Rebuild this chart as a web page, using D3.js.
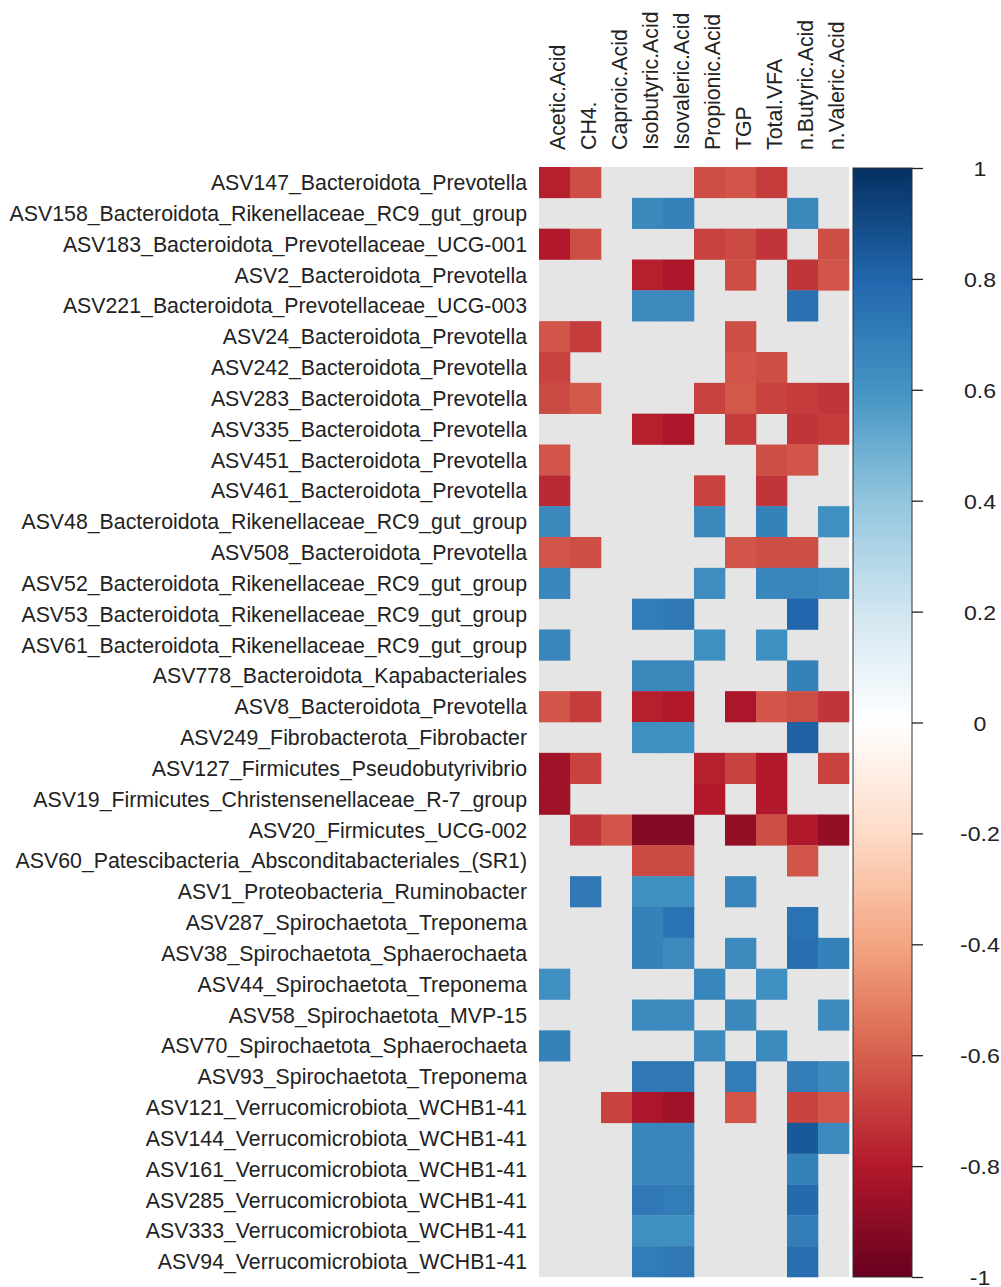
<!DOCTYPE html>
<html><head><meta charset="utf-8">
<script src="https://cdn.jsdelivr.net/npm/d3@7"></script>
<style>body{margin:0;background:#fff}svg{display:block}text{font-family:"Liberation Sans",Arial,sans-serif;fill:#222}</style>
</head><body><svg id="c" width="1001" height="1287"></svg>
<script>
const columns = ["Acetic.Acid","CH4.","Caproic.Acid","Isobutyric.Acid","Isovaleric.Acid","Propionic.Acid","TGP","Total.VFA","n.Butyric.Acid","n.Valeric.Acid"];
const rowsLabels = ["ASV147_Bacteroidota_Prevotella","ASV158_Bacteroidota_Rikenellaceae_RC9_gut_group","ASV183_Bacteroidota_Prevotellaceae_UCG-001","ASV2_Bacteroidota_Prevotella","ASV221_Bacteroidota_Prevotellaceae_UCG-003","ASV24_Bacteroidota_Prevotella","ASV242_Bacteroidota_Prevotella","ASV283_Bacteroidota_Prevotella","ASV335_Bacteroidota_Prevotella","ASV451_Bacteroidota_Prevotella","ASV461_Bacteroidota_Prevotella","ASV48_Bacteroidota_Rikenellaceae_RC9_gut_group","ASV508_Bacteroidota_Prevotella","ASV52_Bacteroidota_Rikenellaceae_RC9_gut_group","ASV53_Bacteroidota_Rikenellaceae_RC9_gut_group","ASV61_Bacteroidota_Rikenellaceae_RC9_gut_group","ASV778_Bacteroidota_Kapabacteriales","ASV8_Bacteroidota_Prevotella","ASV249_Fibrobacterota_Fibrobacter","ASV127_Firmicutes_Pseudobutyrivibrio","ASV19_Firmicutes_Christensenellaceae_R-7_group","ASV20_Firmicutes_UCG-002","ASV60_Patescibacteria_Absconditabacteriales_(SR1)","ASV1_Proteobacteria_Ruminobacter","ASV287_Spirochaetota_Treponema","ASV38_Spirochaetota_Sphaerochaeta","ASV44_Spirochaetota_Treponema","ASV58_Spirochaetota_MVP-15","ASV70_Spirochaetota_Sphaerochaeta","ASV93_Spirochaetota_Treponema","ASV121_Verrucomicrobiota_WCHB1-41","ASV144_Verrucomicrobiota_WCHB1-41","ASV161_Verrucomicrobiota_WCHB1-41","ASV285_Verrucomicrobiota_WCHB1-41","ASV333_Verrucomicrobiota_WCHB1-41","ASV94_Verrucomicrobiota_WCHB1-41"];
const N = null;
const values = [
[-0.78,-0.65,N,N,N,-0.65,-0.63,-0.70,N,N],
[N,N,N,0.65,0.68,N,N,N,0.65,N],
[-0.80,-0.65,N,N,N,-0.68,-0.66,-0.72,N,-0.65],
[N,N,N,-0.78,-0.82,N,-0.65,N,-0.72,-0.63],
[N,N,N,0.64,0.64,N,N,N,0.75,N],
[-0.63,-0.70,N,N,N,N,-0.65,N,N,N],
[-0.68,N,N,N,N,N,-0.63,-0.65,N,N],
[-0.66,-0.62,N,N,N,-0.68,-0.62,-0.68,-0.70,-0.72],
[N,N,N,-0.78,-0.82,N,-0.70,N,-0.72,-0.70],
[-0.63,N,N,N,N,N,N,-0.65,-0.63,N],
[-0.75,N,N,N,N,-0.68,N,-0.72,N,N],
[0.65,N,N,N,N,0.65,N,0.68,N,0.62],
[-0.63,-0.65,N,N,N,N,-0.63,-0.65,-0.65,N],
[0.66,N,N,N,N,0.63,N,0.66,0.66,0.64],
[N,N,N,0.70,0.72,N,N,N,0.80,N],
[0.66,N,N,N,N,0.62,N,0.62,N,N],
[N,N,N,0.65,0.65,N,N,N,0.68,N],
[-0.63,-0.70,N,-0.78,-0.80,N,-0.82,-0.63,-0.65,-0.72],
[N,N,N,0.62,0.62,N,N,N,0.82,N],
[-0.85,-0.68,N,N,N,-0.78,-0.68,-0.80,N,-0.68],
[-0.85,N,N,N,N,-0.80,N,-0.80,N,N],
[N,-0.72,-0.63,-0.92,-0.92,N,-0.88,-0.65,-0.80,-0.88],
[N,N,N,-0.66,-0.66,N,N,N,-0.63,N],
[N,0.72,N,0.62,0.62,N,0.66,N,N,N],
[N,N,N,0.68,0.74,N,N,N,0.74,N],
[N,N,N,0.68,0.64,N,0.64,N,0.76,0.68],
[0.62,N,N,N,N,0.66,N,0.62,N,N],
[N,N,N,0.64,0.64,N,0.65,N,N,0.64],
[0.68,N,N,N,N,0.64,N,0.64,N,N],
[N,N,N,0.72,0.72,N,0.70,N,0.70,0.64],
[N,N,-0.68,-0.82,-0.85,N,-0.63,N,-0.68,-0.63],
[N,N,N,0.66,0.66,N,N,N,0.85,0.64],
[N,N,N,0.66,0.66,N,N,N,0.68,N],
[N,N,N,0.72,0.70,N,N,N,0.78,N],
[N,N,N,0.62,0.62,N,N,N,0.70,N],
[N,N,N,0.70,0.72,N,N,N,0.76,N]
];
const legendTicks = [1,0.8,0.6,0.4,0.2,0,-0.2,-0.4,-0.6,-0.8,-1];
const legendTickLabels = ["1","0.8","0.6","0.4","0.2","0","-0.2","-0.4","-0.6","-0.8","-1"];
const paletteColors = ["#67001F","#B2182B","#D6604D","#F4A582","#FDDBC7","#FFFFFF","#D1E5F0","#92C5DE","#4393C3","#2166AC","#053061"];

const svg = d3.select("#c");
const gx0 = 539, gx1 = 849, gy0 = 167, gy1 = 1277;
const x = d3.scaleBand().domain(columns).range([gx0, gx1]);
const y = d3.scaleBand().domain(rowsLabels).range([gy0, gy1]);
const color = d3.scaleLinear().domain(d3.range(11).map(i => -1 + i * 0.2)).range(paletteColors).interpolate(d3.interpolateRgb);

svg.append("rect").attr("x", gx0).attr("y", gy0).attr("width", gx1 - gx0).attr("height", gy1 - gy0).attr("fill", "#e5e5e5");

const cells = [];
values.forEach((row, i) => row.forEach((v, j) => { if (v !== null) cells.push({r: rowsLabels[i], c: columns[j], v}); }));
svg.append("g").selectAll("rect").data(cells).join("rect")
  .attr("x", d => x(d.c)).attr("y", d => y(d.r))
  .attr("width", x.bandwidth() + 0.3).attr("height", y.bandwidth() + 0.3)
  .attr("fill", d => color(d.v));

svg.append("g").selectAll("text").data(rowsLabels).join("text")
  .attr("x", 527).attr("y", d => y(d) + y.bandwidth() / 2).attr("dy", "0.36em")
  .attr("text-anchor", "end").attr("font-size", 21.3).text(d => d);

svg.append("g").selectAll("text").data(columns).join("text")
  .attr("transform", d => `translate(${x(d) + x.bandwidth() / 2 + 3},150) rotate(-90)`)
  .attr("dy", "0.36em").attr("text-anchor", "start").attr("font-size", 21.3).text(d => d);

const ly = d3.scaleLinear().domain([1, -1]).range([gy0 + 1, gy1]);
const cbx0 = 853, cbx1 = 912;
const defs = svg.append("defs");
const grad = defs.append("linearGradient").attr("id", "g").attr("x1", 0).attr("y1", 0).attr("x2", 0).attr("y2", 1);
d3.range(0, 1.0001, 0.05).forEach(t => {
  grad.append("stop").attr("offset", t).attr("stop-color", color(1 - 2 * t));
});
svg.append("rect").attr("x", cbx0).attr("y", ly(1)).attr("width", cbx1 - cbx0).attr("height", ly(-1) - ly(1))
  .attr("fill", "url(#g)").attr("stroke", "#333").attr("stroke-width", 1);

const axis = d3.axisRight(ly).tickValues(legendTicks).tickSize(11)
  .tickFormat((d, i) => legendTickLabels[i]);
const ag = svg.append("g").attr("transform", `translate(${cbx1},0)`).call(axis);
ag.select(".domain").remove();
ag.selectAll(".tick line").attr("stroke", "#222").attr("stroke-width", 1.3);
ag.selectAll(".tick text").attr("text-anchor", "middle").attr("font-size", 21)
  .attr("font-family", "Liberation Sans, Arial, sans-serif").attr("fill", "#222")
  .attr("dy", "0.36em").attr("transform", "scale(1.1,1)").attr("x", 68 / 1.1);
</script></body></html>
